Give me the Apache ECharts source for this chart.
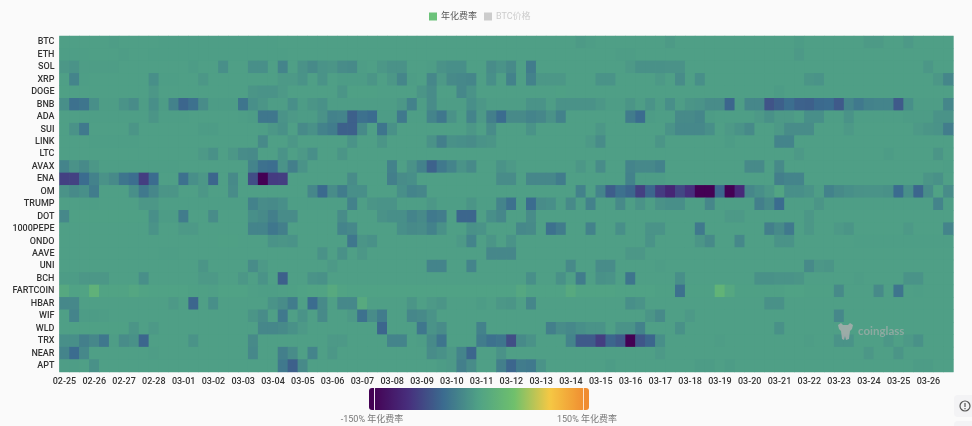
<!DOCTYPE html>
<html><head><meta charset="utf-8">
<style>html,body{margin:0;padding:0;background:#fafafa}#c{width:972px;height:426px;filter:blur(0.45px)}</style>
<script src="https://cdn.jsdelivr.net/npm/echarts@6/dist/echarts.min.js"></script>
</head><body><div id="c"></div>
<script>
const days=['02-25','02-26','02-27','02-28','03-01','03-02','03-03','03-04','03-05','03-06','03-07','03-08','03-09','03-10','03-11','03-12','03-13','03-14','03-15','03-16','03-17','03-18','03-19','03-20','03-21','03-22','03-23','03-24','03-25','03-26'];
const hours=['00:00','08:00','16:00'];
const coins=['BTC','ETH','SOL','XRP','DOGE','BNB','ADA','SUI','LINK','LTC','AVAX','ENA','OM','TRUMP','DOT','1000PEPE','ONDO','AAVE','UNI','BCH','FARTCOIN','HBAR','WIF','WLD','TRX','NEAR','APT'];
const BTC=[-3,-3,-3,-3,-3,-5,-3,-3,-3,-3,-4,-4,-4,-4,-4,-4,-4,-4,-4,-4,-4,-4,-3,-3,-3,-3,-3,-3,-3,-3,
-3,-3,-3,-3,-3,-3,-3,-3,-3,-3,-3,-3,-3,-3,-3,-3,-3,-3,-3,-3,-3,-3,-7,-5,-3,-3,-3,-3,-3,-3,
-3,-7,-3,-3,-3,-3,-3,-3,-3,-3,-3,-3,-3,-3,-6,-3,-3,-3,-3,-3,-3,-7,-7,-3,-3,-8,-3,-3,-3,-3];
const ETH=[-4,-4,-4,-3,-3,-3,-5,-3,-3,-4,-4,-4,-4,-4,-4,-4,-4,-4,-4,-4,-4,-4,-4,-3,-3,-3,-3,-3,-3,-3,
-3,-3,-3,-3,-3,-3,-3,-3,-3,-3,-3,-3,-3,-3,-3,-3,-3,-3,-3,-3,-3,-3,-3,-3,-3,-3,-5,-5,-3,-3,
-3,-3,-3,-3,-3,-3,-3,-3,-3,-3,-3,-3,-3,-3,-8,-3,-3,-3,-3,-3,-3,-3,-3,-3,-3,-3,-3,-3,-3,-3];
const SOL=[-10,-14,-5,-5,-5,-5,-3,-3,-3,-3,-3,-3,-3,-6,-3,-3,-18,-3,-3,-18,-18,-3,-28,-3,-15,-22,-14,-12,-20,-22,
-5,-3,-10,-15,-15,-3,-3,-5,-15,-18,-18,-3,-3,-20,-14,-22,-3,-35,-3,-3,-3,-3,-3,-3,-3,-3,-3,-8,-16,-16,
-16,-15,-15,-3,-3,-3,-3,-3,-3,-3,-3,-3,-3,-3,-3,-3,-3,-3,-3,-3,-3,-3,-3,-3,-3,-3,-3,-10,-3,-3];
const XRP=[-3,-28,-4,-3,-3,-3,-3,-3,-3,-18,-4,-4,-3,-3,-10,-3,-3,-3,-3,-3,-3,-3,-8,-8,-14,-3,-14,-3,-6,-6,
-6,-12,-3,-10,-26,-5,-3,-25,-8,-22,-24,-26,-3,-18,-3,-30,-3,-30,-10,-10,-10,-3,-3,-3,-14,-14,-3,-3,-3,-3,
-8,-3,-20,-3,-18,-3,-3,-3,-3,-3,-3,-3,-3,-3,-3,-12,-14,-3,-3,-3,-3,-3,-3,-3,-3,-3,-3,-3,-10,-26];
const DOGE=[-2,-3,-3,-3,-3,-3,-3,-3,-3,-10,-3,-3,-3,-3,-3,-3,-3,-3,-3,-12,-14,-14,-8,-3,-3,-3,-3,-3,-12,-2,
-2,-2,-3,-3,-3,-3,-12,-20,-3,-3,-24,-14,-3,-3,-3,-3,-3,-3,-3,-3,-2,-3,-3,-3,-3,-3,-3,-3,-3,-3,
-3,-3,-3,-3,-3,-3,-3,-3,-3,-3,-3,-3,-6,-3,-3,-3,-3,-3,-3,-3,-3,-3,-3,-3,-3,-3,-3,-3,-3,-3];
const BNB=[-18,-45,-42,-18,-5,-5,-14,-20,-5,-18,-6,-30,-55,-45,-20,-6,-6,-6,-42,-18,-12,-5,-5,-18,-6,-12,-16,-5,-5,-5,
-5,-5,-5,-5,-10,-30,-5,-20,-5,-5,-5,-18,-10,-5,-5,-5,-5,-14,-14,-5,-15,-15,-15,-15,-10,-5,-5,-12,-5,-14,
-5,-18,-5,-12,-14,-20,-20,-55,-5,-25,-25,-70,-60,-48,-58,-60,-52,-50,-65,-28,-38,-30,-28,-28,-65,-18,-5,-5,-5,-26];
const ADA=[-3,-3,-4,-4,-4,-4,-4,-4,-4,-12,-4,-4,-4,-3,-3,-3,-3,-3,-4,-6,-40,-40,-14,-8,-6,-6,-15,-30,-28,-60,
-45,-50,-6,-6,-38,-4,-4,-28,-40,-15,-4,-28,-8,-32,-50,-22,-22,-28,-25,-15,-30,-3,-3,-3,-3,-3,-3,-35,-50,-6,
-4,-4,-22,-22,-26,-6,-4,-4,-4,-4,-8,-16,-8,-8,-4,-18,-18,-4,-4,-14,-4,-4,-4,-4,-4,-6,-6,-6,-14,-14];
const SUI=[-3,-15,-38,-3,-3,-3,-3,-12,-3,-3,-3,-3,-3,-3,-6,-6,-3,-3,-3,-3,-4,-10,-16,-3,-22,-16,-30,-35,-60,-60,
-22,-3,-42,-16,-3,-3,-3,-3,-3,-3,-3,-10,-3,-20,-3,-3,-3,-14,-3,-3,-3,-3,-3,-3,-10,-3,-3,-3,-3,-3,
-3,-14,-24,-24,-24,-18,-3,-8,-14,-22,-3,-3,-8,-20,-20,-20,-3,-3,-3,-8,-3,-3,-3,-3,-3,-3,-8,-12,-14,-34];
const LINK=[-3,-3,-3,-4,-4,-4,-4,-4,-3,-3,-3,-3,-3,-3,-3,-3,-3,-3,-3,-3,-22,-3,-3,-10,-3,-3,-3,-3,-3,-14,
-3,-3,-12,-3,-3,-3,-3,-15,-32,-16,-18,-20,-14,-12,-3,-3,-3,-3,-3,-3,-3,-3,-3,-8,-20,-3,-3,-3,-3,-3,
-12,-3,-3,-3,-3,-3,-3,-6,-3,-3,-3,-3,-28,-28,-3,-3,-3,-3,-3,-3,-3,-3,-3,-3,-3,-3,-3,-3,-3,-3];
const LTC=[-3,-3,-3,-3,-3,-3,-3,-3,-3,-3,-3,-3,-3,-3,-8,-16,-3,-10,-20,-22,-3,-3,-14,-3,-8,-18,-3,-3,-12,-3,
-3,-3,-3,-3,-3,-3,-3,-3,-3,-3,-3,-3,-3,-3,-3,-3,-3,-3,-3,-3,-3,-3,-3,-3,-3,-3,-3,-3,-3,-3,
-3,-3,-3,-3,-3,-3,-3,-3,-3,-3,-3,-3,-3,-3,-8,-3,-3,-3,-3,-3,-3,-3,-3,-6,-3,-3,-3,-3,-12,-3];
const AVAX=[-28,-15,-22,-10,-4,-4,-4,-4,-4,-4,-4,-4,-3,-3,-3,-3,-3,-3,-3,-28,-45,-48,-14,-32,-14,-3,-3,-3,-3,-3,
-3,-3,-3,-30,-3,-15,-30,-58,-38,-28,-14,-22,-3,-3,-14,-8,-3,-3,-3,-3,-3,-3,-10,-3,-20,-3,-3,-28,-24,-24,
-30,-3,-3,-3,-3,-3,-3,-3,-3,-22,-22,-3,-22,-3,-3,-3,-3,-3,-3,-3,-3,-3,-3,-3,-3,-3,-3,-3,-3,-4];
const ENA=[-85,-85,-50,-30,-15,-22,-42,-48,-88,-50,-3,-3,-45,-18,-10,-55,-3,-22,-3,-75,-150,-90,-88,-3,-3,-3,-3,-3,-3,-20,
-3,-3,-3,-32,-20,-18,-3,-3,-3,-3,-3,-3,-3,-3,-20,-20,-3,-25,-25,-25,-35,-3,-3,-3,-3,-3,-3,-30,-6,-6,
-6,-3,-3,-3,-3,-3,-3,-3,-3,-3,-3,-3,-32,-28,-28,-3,-3,-3,-3,-3,-3,-3,-3,-3,-3,-3,-3,-12,-16,-3];
const OM=[-14,-22,-18,-35,-3,-3,-3,-18,-38,-25,-12,-12,-3,-3,-10,-3,-3,-20,-3,-3,-3,-3,-3,-3,-3,-25,-52,-20,-35,-18,
-18,-3,-3,-3,-18,-28,-25,-3,-3,-3,-3,-3,-3,-3,-3,-3,-3,-3,-3,-3,-3,-3,-30,-3,-28,-62,-45,-55,-86,-55,
-90,-110,-80,-100,-150,-150,-55,-150,-105,-25,-18,-10,4,-18,-18,-14,-5,-30,-22,-18,-15,-14,-14,-16,-50,-18,-55,-20,0,-20];
const TRUMP=[-3,-3,-4,-4,-3,-3,-3,-3,-10,-10,-4,-4,-4,-4,-4,-4,-4,-4,-4,-30,-20,-22,-18,-4,-4,-4,-4,-4,-4,-30,
-4,-12,-14,-14,-4,-4,-4,-10,-4,-4,-4,-12,-4,-4,-28,-45,-4,-50,-20,-18,-4,-22,-4,-30,-4,-4,-22,-4,-14,-4,
-15,-18,-18,-4,-4,-25,-4,-4,-4,-4,-32,-22,-50,-4,-4,-4,-12,-4,-4,-4,-4,-4,-4,-4,-4,-4,-4,-4,-28,-4];
const DOT=[-24,-2,-2,-2,-2,-2,-2,-2,-2,-18,-6,-6,-35,-3,-3,-20,-3,-3,-3,-18,-22,-32,-20,-20,-3,-3,-3,-3,-20,-3,
-3,-3,-15,-18,-18,-28,-22,-38,-34,-3,-55,-55,-3,-18,-25,-3,-3,-20,-3,-3,-3,-3,-3,-3,-3,-3,-3,-3,-3,-3,
-3,-3,-3,-3,-3,-3,-3,-8,-8,-3,-3,-3,-3,-3,-3,-10,-3,-3,-3,-3,-3,-3,-3,-3,-3,-3,-3,-3,-3,-3];
const PEPE1000=[-3,-3,-3,-3,-3,-3,-3,-3,-3,-14,-3,-3,-8,-8,-3,-3,-3,-3,-3,-28,-28,-40,-32,-3,-3,-3,-3,-3,-28,-24,
-3,-3,-3,-3,-18,-22,-20,-30,-16,-3,-3,-16,-14,-3,-3,-3,-24,-22,-3,-45,-35,-3,-3,-30,-3,-3,-18,-3,-3,-14,
-14,-3,-3,-3,-38,-3,-3,-3,-3,-3,-3,-32,-22,-38,-3,-10,-3,-3,-8,-12,-3,-3,-3,-3,-3,-8,-3,-3,-3,-28];
const ONDO=[-3,-3,-3,-3,-3,-3,-3,-3,-3,-3,-3,-3,-3,-3,-3,-3,-2,-2,-3,-3,-3,-14,-12,-14,-3,-3,-3,-3,-3,-40,
-12,-16,-3,-3,-3,-3,-3,-3,-3,-3,-8,-28,-3,-12,-3,-14,-3,-3,-3,-3,-3,-3,-3,-3,-3,-3,-3,-3,-3,-14,
-3,-3,-3,-3,-12,-22,-3,-3,-24,-3,-3,-3,-14,-14,-3,-3,-3,-3,-3,-3,-4,-4,-4,-4,-4,-4,-4,-4,-4,-4];
const AAVE=[-3,-3,-3,-3,-3,-3,-3,-3,-3,-3,-4,-4,-3,-3,-3,-3,-3,-3,-3,-3,-3,-3,-3,-3,-3,-3,-15,-3,-16,-3,
-10,-3,-3,-3,-3,-3,-3,-3,-3,-3,-3,-3,-3,-25,-25,-25,-3,-3,-3,-3,-3,-3,-3,-3,-3,-3,-3,-10,-10,-3,
-3,-3,-3,-3,-3,-3,-3,-3,-3,-3,-3,-3,-3,-3,-3,-3,-3,-3,-3,-3,-3,-3,-3,-3,-3,-3,-3,-3,-3,-3];
const UNI=[-3,-3,-3,-3,-3,-3,-3,-3,-3,-3,-3,-3,-3,-3,-12,-3,-3,-3,-3,-20,-8,-3,-3,-3,-3,-3,-3,-8,-3,-3,
-3,-3,-3,-3,-3,-3,-3,-28,-28,-3,-3,-28,-3,-3,-3,-3,-3,-3,-3,-3,-3,-22,-3,-3,-20,-20,-3,-3,-3,-3,
-5,-3,-3,-3,-3,-3,-3,-3,-3,-3,-3,-3,-3,-3,-3,-22,-10,-12,-3,-3,-3,-3,-3,-3,-3,-3,-3,-3,-3,-3];
const BCH=[-6,-6,-10,-10,-10,-3,-3,-3,-18,-3,-3,-3,-3,-3,-8,-8,-3,-3,-10,-3,-14,-3,-60,-3,-3,-14,-16,-3,-3,-3,
-3,-3,-3,-3,-3,-3,-3,-3,-3,-3,-3,-3,-3,-3,-3,-3,-3,-18,-3,-3,-16,-3,-35,-3,-16,-14,-3,-42,-3,-3,
-3,-3,-18,-3,-3,-3,-3,-3,-3,-3,-16,-16,-14,-14,-12,-3,-3,-3,-3,-3,-5,-3,-3,-3,-3,-14,-14,-3,-3,-3];
const FARTCOIN=[10,0,2,25,2,2,2,6,2,0,0,0,0,-2,-2,-3,0,0,0,-3,-4,-4,-3,-2,0,2,2,12,2,0,
0,0,0,0,0,0,0,0,0,0,0,0,0,0,0,0,8,0,0,0,0,12,2,2,2,2,0,0,0,0,
-2,-2,-45,-2,-2,-2,28,8,-2,-2,-2,-2,-2,0,0,-2,-2,-2,-22,-3,-3,-3,-22,-3,-42,-3,-4,-3,-3,-3];
const HBAR=[-24,-24,-3,-3,-3,-3,-3,-3,-3,-3,-3,-8,-3,-55,-3,-18,-3,-3,-3,-3,-3,-14,-20,-35,-3,-50,-22,-3,-24,-24,
12,-3,-3,-3,-3,-12,-3,-8,-12,-3,-3,-3,-6,-3,-10,-12,-3,-26,-3,-3,-3,-3,-3,-3,-3,-3,-3,-18,-14,-3,
-3,-3,-3,-3,-3,-3,-3,-3,-3,-3,-3,-16,-16,-3,-3,-3,-3,-3,-3,-3,-3,-3,-3,-3,-3,-3,-3,-3,-3,-3];
const WIF=[-3,-28,-6,-6,-5,-3,-3,-3,-3,-3,-3,-3,-3,-3,-3,-3,-3,-3,-3,-12,-20,-3,-38,-3,-14,-3,-22,-3,-3,-8,
-45,-20,-35,-3,-3,-25,-22,-14,-3,-3,-3,-3,-3,-3,-3,-3,-3,-3,-3,-3,-3,-3,-3,-3,-3,-3,-3,-3,-3,-12,
-22,-3,-3,-8,-3,-3,-3,-3,-3,-3,-3,-3,-3,-3,-3,-3,-3,-3,-24,-3,-3,-3,-3,-3,-3,-3,-3,-3,-3,-3];
const WLD=[-3,-2,-2,-2,-2,-2,-2,-12,-3,-8,-3,-3,-3,-3,-3,-3,-3,-3,-3,-3,-25,-25,-22,-16,-8,-3,-3,-3,-3,-3,
-3,-3,-55,-3,-3,-3,-40,-14,-20,-3,-3,-3,-30,-3,-3,-3,-3,-3,-3,-32,-20,-24,-18,-14,-14,-3,-14,-14,-30,-3,
-3,-3,-16,-3,-3,-3,-3,-3,-3,-3,-3,-3,-16,-3,-3,-3,-3,-3,-3,-3,-3,-3,-3,-3,-3,-3,-3,-3,-3,-3];
const TRX=[-18,-18,-32,-25,-40,-5,-20,-16,-55,-3,-3,-3,-3,-14,-3,-3,-3,-3,-3,-22,-3,-3,-3,-3,-3,-3,-3,-8,-8,-3,
-3,-3,-3,-28,-28,-3,-5,-22,-42,-3,-3,-3,-35,-45,-42,-75,-22,-15,-3,-3,-3,-28,-65,-65,-88,-55,-65,-150,-68,-55,
-18,-3,-3,-3,-3,-3,-5,-3,-3,-3,-3,-3,-3,-3,-3,-5,-3,-3,-14,-14,-3,-3,-3,-10,-3,-8,-16,-3,-3,-3];
const NEAR=[-28,-50,-24,-3,-3,-3,-3,-3,-3,-5,-3,-3,-3,-3,-3,-3,-3,-3,-3,-24,-3,-3,-32,-20,-3,-28,-3,-10,-3,-3,
-3,-3,-3,-3,-3,-3,-3,-20,-16,-8,-28,-55,-3,-3,-15,-3,-3,-3,-3,-3,-3,-3,-3,-3,-3,-3,-3,-3,-3,-3,
-8,-3,-3,-3,-3,-3,-3,-3,-3,-3,-3,-3,-3,-3,-3,-3,-3,-3,-3,-3,-3,-10,-3,-3,-12,-3,-3,-3,-3,-3];
const APT=[-5,-5,-3,-16,-3,-3,-3,-3,-3,-3,-3,-3,-3,-3,-3,-3,-3,-3,-3,-3,-3,-3,-38,-60,-22,-3,-3,-3,-3,-3,
-3,-3,-3,-3,-3,-3,-3,-3,-6,-8,-32,-20,-3,-3,-32,-55,-35,-38,-14,-3,-3,-3,-3,-3,-3,-6,-3,-3,-3,-3,
-3,-3,-3,-3,-6,-6,-3,-6,-3,-3,-3,-3,-3,-3,-3,-3,-3,-3,-3,-3,-3,-3,-3,-3,-3,-3,-6,-6,-3,-3];
const rows=[BTC,ETH,SOL,XRP,DOGE,BNB,ADA,SUI,LINK,LTC,AVAX,ENA,OM,TRUMP,DOT,PEPE1000,ONDO,AAVE,UNI,BCH,FARTCOIN,HBAR,WIF,WLD,TRX,NEAR,APT];
const times=days.flatMap(d=>hours.map(h=>d+' '+h));
const cells=[];
rows.forEach((r,y)=>r.forEach((v,x)=>cells.push([x,y,v])));
const FF='Roboto,"Noto Sans CJK SC",sans-serif';
const chart=echarts.init(document.getElementById('c'),null,{renderer:'canvas'});
chart.setOption({
  animation:false,
  backgroundColor:'#fafafa',
  textStyle:{fontFamily:FF},
  legend:{left:429,top:12,padding:0,itemWidth:8,itemHeight:8,itemGap:7,icon:'rect',
    data:['年化费率','BTC价格'],selected:{'BTC价格':false},
    textStyle:{fontSize:9,color:'#555',fontFamily:FF,padding:[0,0,0,-1]},inactiveColor:'#ccc'},
  grid:{left:59.5,right:18.7,top:36,height:336,show:true,backgroundColor:'#4e9f86',borderWidth:0},
  xAxis:{type:'category',data:times,splitArea:{show:false},axisLine:{show:false},axisTick:{show:false},
    axisLabel:{interval:2,margin:5,fontSize:9,color:'#333',fontWeight:500,formatter:v=>v.slice(0,5),hideOverlap:false}},
  yAxis:{type:'category',data:coins,inverse:true,axisLine:{show:false},axisTick:{show:false},
    axisLabel:{interval:0,margin:5,fontSize:9,color:'#333',fontWeight:500}},
  visualMap:{type:'continuous',min:-150,max:150,calculable:false,orient:'horizontal',left:373,top:388,padding:0,itemWidth:22,itemHeight:212,
    showLabel:false,text:null,seriesIndex:0,
    inRange:{color:['#440154','#472f7d','#3b6c8f','#50a285','#6fc06c','#f5c844','#f08c30']}},
  series:[
    {name:'年化费率',type:'heatmap',data:cells,progressive:0,itemStyle:{color:'#6cc27a'},emphasis:{disabled:true}},
    {name:'BTC价格',type:'line',data:[],itemStyle:{color:'#ccc'}}
  ],
  graphic:[
    {type:'rect',shape:{x:369,y:388,width:5,height:22,r:[3,0,0,3]},style:{fill:'#440154'},z:10},
    {type:'rect',shape:{x:374,y:388,width:1,height:22},style:{fill:'#f0e6f4'},z:10},
    {type:'rect',shape:{x:584,y:388,width:5,height:22,r:[0,3,3,0]},style:{fill:'#f08c30'},z:10},
    {type:'rect',shape:{x:583,y:388,width:1,height:22},style:{fill:'#fde3c8'},z:10},
    {type:'text',style:{x:372,y:420,text:'-150% 年化费率',font:'9px '+FF,fill:'#777',align:'center',verticalAlign:'middle'},z:10},
    {type:'text',style:{x:587,y:420,text:'150% 年化费率',font:'9px '+FF,fill:'#777',align:'center',verticalAlign:'middle'},z:10},
    {type:'polygon',shape:{points:[[838,325],[841,323],[843,325],[848,325],[850,323],[853,325],[852,329],[850,331],[849,339],[846,340],[845,336],[844,340],[842,339],[841,331],[839,329]]},style:{fill:'rgba(175,175,175,0.8)'},z:10},
    {type:'text',style:{x:858,y:331,text:'coinglass',font:'bold 11.5px Lato,'+FF,fill:'rgba(175,175,175,0.65)',align:'left',verticalAlign:'middle'},z:10},
    {type:'rect',shape:{x:954,y:395,width:30,height:22,r:4},style:{fill:'#f3f3f5'},z:10},
    {type:'rect',shape:{x:954,y:421,width:30,height:12,r:4},style:{fill:'#f3f3f5'},z:10},
    {type:'circle',shape:{cx:965,cy:406,r:5},style:{fill:'none',stroke:'#555',lineWidth:1.2},z:11},
    {type:'rect',shape:{x:964.4,y:403,width:1.2,height:4},style:{fill:'#555'},z:11},
    {type:'rect',shape:{x:964.4,y:408,width:1.2,height:1.2},style:{fill:'#555'},z:11}
  ]
});
</script></body></html>
